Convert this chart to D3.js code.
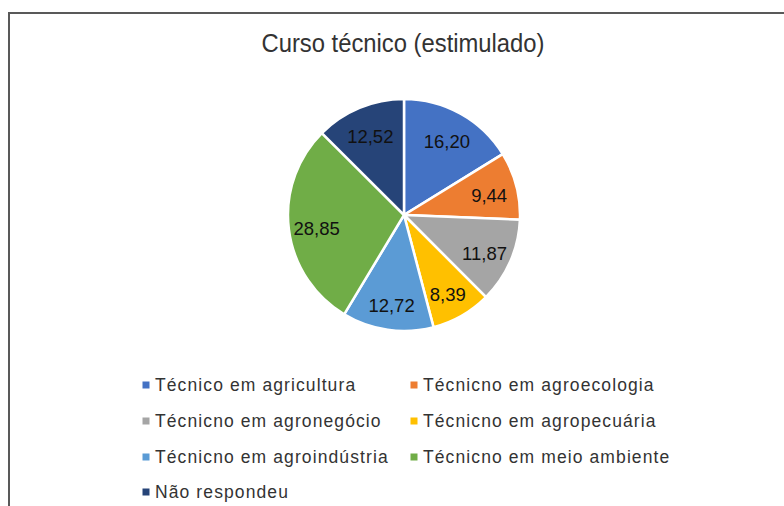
<!DOCTYPE html>
<html><head><meta charset="utf-8">
<script src="https://cdn.jsdelivr.net/npm/d3@7"></script>
<style>html,body{margin:0;padding:0;background:#fff;}svg{display:block;}</style>
</head><body>
<svg id="c" width="784" height="506"></svg>
<script>
const title = "Curso técnico (estimulado)";
const categories = ["Técnico em agricultura","Técnicno em agroecologia","Técnicno em agronegócio","Técnicno em agropecuária","Técnicno em agroindústria","Técnicno em meio ambiente","Não respondeu"];
const values = [16.20, 9.44, 11.87, 8.39, 12.72, 28.85, 12.52];
const colors = ["#4472C4","#ED7D31","#A5A5A5","#FFC000","#5B9BD5","#70AD47","#264478"];

const svg = d3.select("#c");
const font = "'Liberation Sans', Arial, sans-serif";

// frame
svg.append("path").attr("d","M9,506 V13 H784").attr("fill","none").attr("stroke","#595959").attr("stroke-width",2);

svg.append("text").attr("x",403).attr("y",52).attr("text-anchor","middle")
  .attr("font-family",font).attr("font-size",25).attr("fill","#333")
  .attr("textLength",283).attr("lengthAdjust","spacingAndGlyphs").text(title);

const cx = 404, cy = 215, R = 116;
const color = d3.scaleOrdinal().domain(categories).range(colors);
const pie = d3.pie().sort(null).value(d => d.v);
const data = categories.map((c,i)=>({c, v: values[i]}));
const arcs = pie(data);
const arc = d3.arc().innerRadius(0).outerRadius(R);
const labelArc = d3.arc().innerRadius(88).outerRadius(88);
const g = svg.append("g").attr("transform",`translate(${cx},${cy})`);
g.selectAll("path").data(arcs).join("path")
  .attr("d",arc).attr("fill",d=>color(d.data.c)).attr("stroke","#fff").attr("stroke-width",2.5);
g.selectAll("text").data(arcs).join("text")
  .attr("transform",d=>{const p = labelArc.centroid(d); return `translate(${p[0]},${p[1]+3})`;})
  .attr("text-anchor","middle").attr("dy","0.35em")
  .attr("font-family",font).attr("font-size",18.5).attr("fill","#111")
  .text(d=>d3.format(".2f")(d.data.v).replace(".",","));

// legend
const lg = svg.append("g");
const colX = [146, 414], rowY = [385, 421, 457, 492];
categories.forEach((c,i)=>{
  const x = colX[i%2], y = rowY[Math.floor(i/2)];
  lg.append("rect").attr("x",x-3.5).attr("y",y-3.5).attr("width",7).attr("height",7).attr("fill",color(c));
  lg.append("text").attr("x",x+9).attr("y",y).attr("dy","0.35em")
    .attr("font-family",font).attr("font-size",17.5).attr("letter-spacing","1.1px").attr("fill","#333").text(c);
});
</script>
</body></html>
